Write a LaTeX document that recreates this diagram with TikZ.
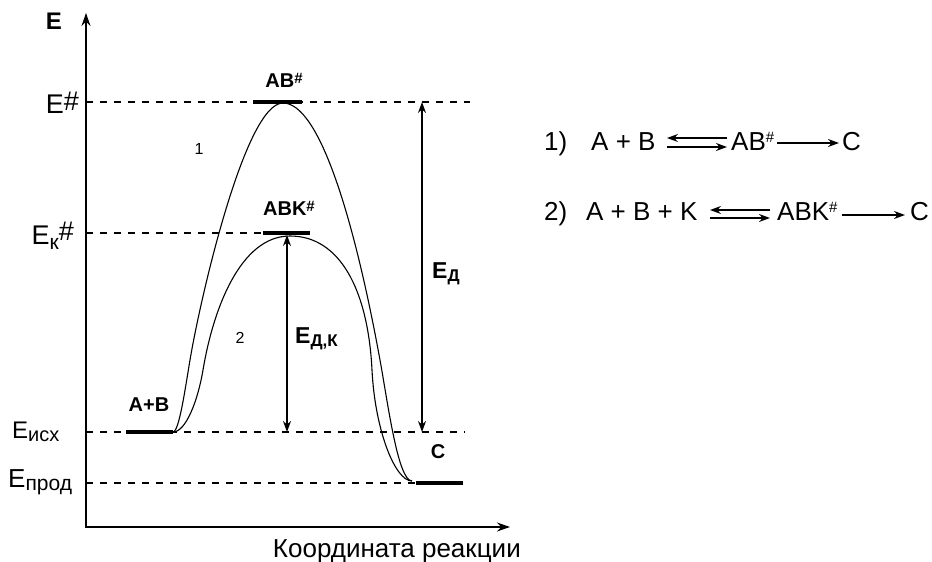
\documentclass[tikz,border=0pt]{standalone}
\usepackage{fontspec}
\setmainfont{Liberation Sans}
\usetikzlibrary{arrows.meta}
\begin{document}
\begin{tikzpicture}[x=1pt,y=-1pt,
  lbl/.style={font=\fontsize{27}{29}\selectfont, inner sep=0pt},
  blbl/.style={font=\fontsize{20}{22}\selectfont\bfseries, inner sep=0pt},
  eqt/.style={font=\fontsize{26}{28}\selectfont, inner sep=0pt, anchor=base west},
  num/.style={font=\fontsize{16}{18}\selectfont, inner sep=0pt},
  lvl/.style={dash pattern=on 7pt off 7pt, line width=1.1pt},
  bar/.style={line width=4.5pt},
  curve/.style={line width=1.1pt},
  dim/.style={line width=1.3pt, {Stealth[length=11pt,width=8pt]}-{Stealth[length=11pt,width=8pt]}},
  axis/.style={line width=1.8pt, {Stealth[length=13pt,width=9pt]}-{Stealth[length=13pt,width=9pt]}},
  rarr/.style={line width=1.2pt, -{Stealth[length=11pt,width=8pt]}}]
\useasboundingbox (0,0) rectangle (932,562);
% axes
\coordinate (Ytop) at (86,13);
\coordinate (O) at (86,527);
\coordinate (Xend) at (510,527);
\draw[axis] (Ytop) -- (O) -- (Xend);
\node[font=\fontsize{24}{26}\selectfont\bfseries, inner sep=0pt] (Elab) at (54,21) {E};
\node[font=\fontsize{26}{28}\selectfont, inner sep=0pt, anchor=base east] (xlab) at (521,557) {Координата реакции};
% levels
\coordinate (Lh0) at (86,102);   \coordinate (Lh1) at (470,102);
\coordinate (Lk0) at (86,233);   \coordinate (Lk1) at (263,233);
\coordinate (Li0) at (86,432);   \coordinate (Li1) at (465,432);
\coordinate (Lp0) at (86,483);   \coordinate (Lp1) at (416,483);
\draw[lvl] (Lh0) -- (Lh1);
\draw[lvl] (Lk0) -- (Lk1);
\draw[lvl] (Li0) -- (Li1);
\draw[lvl] (Lp0) -- (Lp1);
% level labels
\node[lbl, anchor=base east] (Eh) at (79,113) {E\raisebox{3pt}{\#}};
\node[lbl, anchor=base east] (Ek) at (74,244) {E\raisebox{-5pt}{\fontsize{21}{22}\selectfont к}\raisebox{4pt}{\#}};
\node[font=\fontsize{24}{26}\selectfont, inner sep=0pt, anchor=base west] (Ei) at (12,438) {E\raisebox{-3pt}{\fontsize{20}{21}\selectfont исх}};
\node[font=\fontsize{26}{28}\selectfont, inner sep=0pt, anchor=base west] (Ep) at (8,487) {E\raisebox{-3pt}{\fontsize{21}{22}\selectfont прод}};
% bars
\coordinate (ABl) at (126,432); \coordinate (ABr) at (173,432);
\coordinate (Cl) at (416,483);  \coordinate (Cr) at (463,483);
\coordinate (T1l) at (253,102); \coordinate (T1r) at (302,102);
\coordinate (T2l) at (263,233); \coordinate (T2r) at (310,233);
\draw[bar] (ABl) -- (ABr);
\draw[bar] (Cl) -- (Cr);
\draw[bar] (T1l) -- (T1r);
\draw[bar] (T2l) -- (T2r);
\coordinate (Cend) at (412,481);
\coordinate (P1) at (283,103);
\coordinate (P2) at (290,236);
% curves
\draw[curve] (ABr) .. controls (179,432) and (185,390) .. (190,360)
  .. controls (200,300) and (245,103) .. (P1)
  .. controls (320,103) and (355,223) .. (380,360)
  .. controls (388,404) and (398,481) .. (Cend);
\draw[curve] (ABr) .. controls (186,432) and (198,400) .. (203,370)
  .. controls (213,310) and (240,236) .. (P2)
  .. controls (340,236) and (368,290) .. (372,370)
  .. controls (375,430) and (395,481) .. (Cend);
% bar labels
\node[blbl] (lAB) at (149,405) {A+B};
\node[blbl] (lT1) at (284,80) {AB\raisebox{4pt}{\fontsize{15}{16}\selectfont\#}};
\node[blbl] (lT2) at (289,208) {ABK\raisebox{4pt}{\fontsize{15}{16}\selectfont\#}};
\node[blbl] (lC) at (438,452) {C};
\node[num] (n1) at (199,149) {1};
\node[num] (n2) at (240,338) {2};
% energy arrows
\coordinate (Aa) at (422,102); \coordinate (Ab) at (422,432);
\coordinate (Ka) at (287,235); \coordinate (Kb) at (287,432);
\draw[dim] (Aa) -- (Ab);
\draw[dim] (Ka) -- (Kb);
\node[blbl, font=\fontsize{23}{25}\selectfont\bfseries, anchor=base west] (lEA) at (432,278) {E\raisebox{-3pt}{\fontsize{17}{18}\selectfont\bfseries Д}};
\node[blbl, font=\fontsize{23}{25}\selectfont\bfseries, anchor=base west] (lEAK) at (295,343) {E\raisebox{-3pt}{\fontsize{17}{18}\selectfont\bfseries Д,К}};
% equations
\node[eqt] (q1n) at (544,150) {1)};
\node[eqt] (q1a) at (591,150) {A + B};
\node[eqt] (q1t) at (731,150) {AB\raisebox{8pt}{\fontsize{15}{16}\selectfont\#}};
\node[eqt] (q1c) at (842,150) {C};
\coordinate (e1a) at (667,138); \coordinate (e1b) at (727,138);
\coordinate (e1c) at (667,147); \coordinate (e1d) at (727,147);
\coordinate (e1e) at (777,143); \coordinate (e1f) at (839,143);
\draw[rarr] (e1b) -- (e1a);
\draw[rarr] (e1c) -- (e1d);
\draw[rarr] (e1e) -- (e1f);
\node[eqt] (q2n) at (544,220) {2)};
\node[eqt] (q2a) at (586,220) {A + B + K};
\node[eqt] (q2t) at (777,220) {ABK\raisebox{8pt}{\fontsize{15}{16}\selectfont\#}};
\node[eqt] (q2c) at (910,220) {C};
\coordinate (e2a) at (710,210); \coordinate (e2b) at (770,210);
\coordinate (e2c) at (710,218); \coordinate (e2d) at (770,218);
\coordinate (e2e) at (842,215); \coordinate (e2f) at (905,215);
\draw[rarr] (e2b) -- (e2a);
\draw[rarr] (e2c) -- (e2d);
\draw[rarr] (e2e) -- (e2f);
\end{tikzpicture}
\end{document}
